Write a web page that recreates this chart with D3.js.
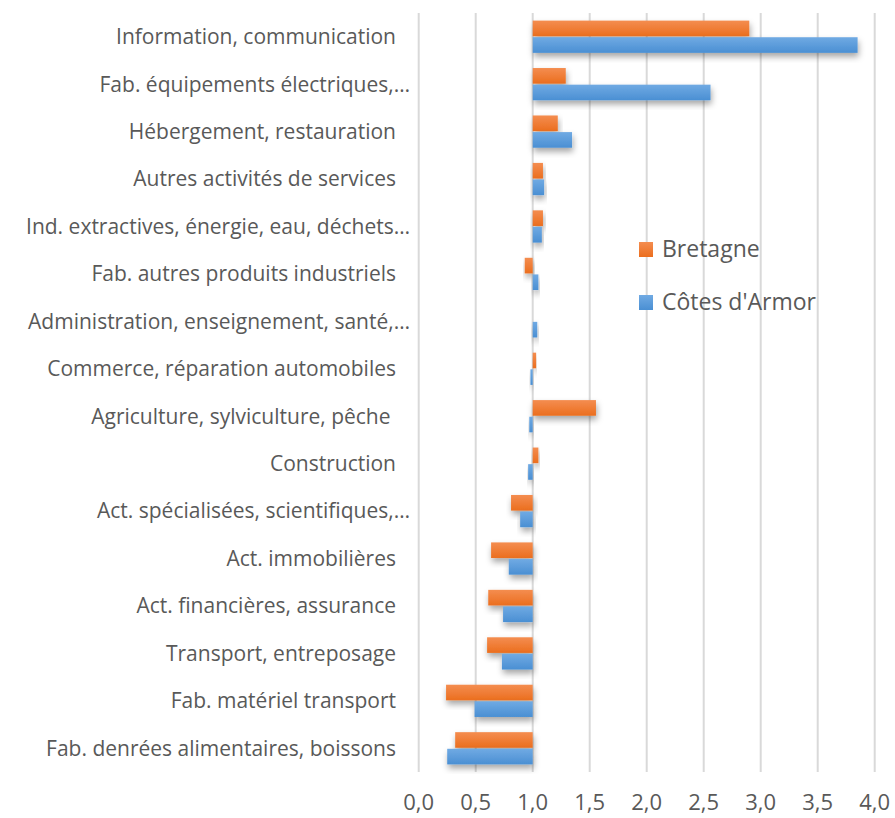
<!DOCTYPE html>
<html>
  <head>
    <meta charset="UTF-8">
    <script src="https://d3js.org/d3.v7.min.js"></script>
    <title>Indices par secteur</title>
  </head>

  <body style="margin:0">
    <svg id="chart" height="818" width="895"></svg>
    <style>
      body { background: #fff; }
      text { font-family: "Open Sans", "Noto Sans", sans-serif; fill: #595959; }
    </style>
    <script>

    var categories = [
      "Information, communication",
      "Fab. équipements électriques,…",
      "Hébergement, restauration",
      "Autres activités de services",
      "Ind. extractives, énergie, eau, déchets…",
      "Fab. autres produits industriels",
      "Administration, enseignement, santé,…",
      "Commerce, réparation automobiles",
      "Agriculture, sylviculture, pêche ",
      "Construction",
      "Act. spécialisées, scientifiques,…",
      "Act. immobilières",
      "Act. financières, assurance",
      "Transport, entreposage",
      "Fab. matériel transport",
      "Fab. denrées alimentaires, boissons"
    ];
    var series = ["Bretagne", "Côtes d'Armor"];
    var bretagne = [2.90, 1.29, 1.22, 1.09, 1.09, 0.93, 1.00, 1.03, 1.555, 1.05, 0.81, 0.635, 0.61, 0.60, 0.24, 0.32];
    var cotesArmor = [3.85, 2.56, 1.345, 1.10, 1.08, 1.05, 1.04, 0.98, 0.97, 0.96, 0.89, 0.79, 0.74, 0.73, 0.49, 0.25];
    var xTicks = [0, 0.5, 1, 1.5, 2, 2.5, 3, 3.5, 4];
    var baseline = 1.0;

    var svg = d3.select("#chart");
    var colors = { "Bretagne": ["#F48D50", "#EB6E1E"], "Côtes d'Armor": ["#70AAE3", "#4A8FD3"] };

    var defs = svg.append("defs");
    series.forEach(function(s, i) {
      var g = defs.append("linearGradient").attr("id", "grad" + i)
        .attr("x1", 0).attr("y1", 0).attr("x2", 0).attr("y2", 1);
      g.append("stop").attr("offset", "0%").attr("stop-color", colors[s][0]);
      g.append("stop").attr("offset", "100%").attr("stop-color", colors[s][1]);
    });
    defs.append("filter").attr("id", "shadow")
      .attr("x", "-20%").attr("y", "-40%").attr("width", "140%").attr("height", "200%")
      .append("feDropShadow")
      .attr("dx", 1).attr("dy", 4).attr("stdDeviation", 3)
      .attr("flood-color", "#000").attr("flood-opacity", 0.35);

    var x = d3.scaleLinear().domain([0, 4]).range([418.7, 874.7]);
    var y = d3.scaleBand().domain(categories).range([13, 772]).paddingInner(0.32).paddingOuter(0.16);
    var ySub = d3.scaleBand().domain(series).range([0, y.bandwidth()]).paddingInner(0.06);

    // gridlines
    svg.append("g").selectAll("line").data(xTicks).enter().append("line")
      .attr("x1", function(d){ return x(d); }).attr("x2", function(d){ return x(d); })
      .attr("y1", 13).attr("y2", 772)
      .attr("stroke", "#D9D9D9").attr("stroke-width", 2);

    // bars
    var rows = categories.map(function(c, i) {
      return { cat: c, vals: [
        { s: series[0], v: bretagne[i], k: 0 },
        { s: series[1], v: cotesArmor[i], k: 1 }
      ] };
    });
    var grp = svg.append("g").selectAll("g").data(rows).enter().append("g")
      .attr("transform", function(d){ return "translate(0," + y(d.cat) + ")"; });
    grp.selectAll("rect").data(function(d){ return d.vals; }).enter().append("rect")
      .attr("x", function(d){ return x(Math.min(d.v, baseline)); })
      .attr("width", function(d){ return Math.abs(x(d.v) - x(baseline)); })
      .attr("y", function(d){ return ySub(d.s); })
      .attr("height", ySub.bandwidth())
      .attr("fill", function(d){ return "url(#grad" + d.k + ")"; })
      .attr("filter", "url(#shadow)");

    // category labels
    svg.append("g").selectAll("text").data(categories).enter().append("text")
      .attr("x", function(d){ return d.slice(-1) === "…" ? 410 : 396; })
      .attr("y", function(d){ return y(d) + y.bandwidth() / 2; })
      .attr("dy", "0.35em")
      .attr("text-anchor", "end")
      .attr("font-size", 21)
      .style("white-space", "pre")
      .text(function(d){ return d; });

    // x axis labels
    var fmt = function(d){ return d3.format(".1f")(d).replace(".", ","); };
    svg.append("g").selectAll("text").data(xTicks).enter().append("text")
      .attr("x", function(d){ return x(d); })
      .attr("y", 810)
      .attr("text-anchor", "middle")
      .attr("font-size", 22)
      .text(fmt);

    // legend
    var leg = svg.append("g").attr("transform", "translate(639,242)");
    var li = leg.selectAll("g").data(series).enter().append("g")
      .attr("transform", function(d, i){ return "translate(0," + i * 53 + ")"; });
    li.append("rect").attr("width", 14).attr("height", 15)
      .attr("fill", function(d, i){ return "url(#grad" + i + ")"; });
    li.append("text").attr("x", 23).attr("y", 15).attr("font-size", 23).text(function(d){ return d; });
    </script>
  </body>
</html>
